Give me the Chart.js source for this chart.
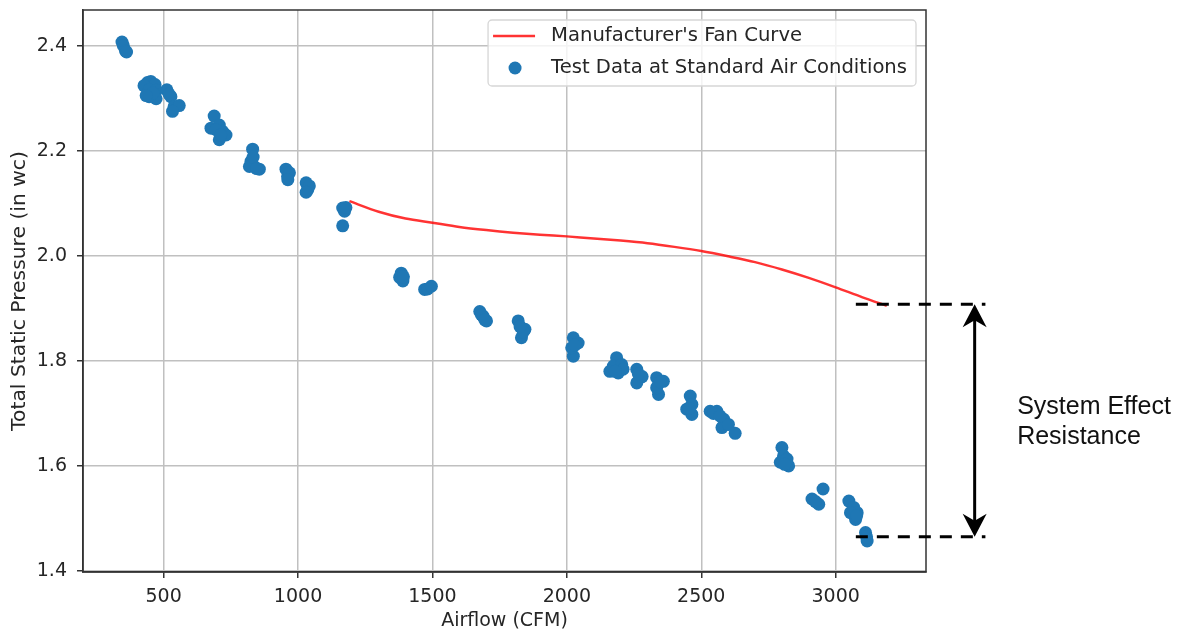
<!DOCTYPE html>
<html>
<head>
<meta charset="utf-8">
<script src="https://cdn.jsdelivr.net/npm/chart.js@4.4.0/dist/chart.umd.min.js"></script>
<style>
  html, body { margin: 0; padding: 0; background: #fff; }
  canvas { display: block; }
</style>
</head>
<body>
<canvas id="graficoVentilador" width="1186" height="637"></canvas>
<script>
// * Curva do fabricante
var fanCurveAirflow = [1191, 1300, 1400, 1500, 1600, 1700, 1800, 1900, 2000, 2100, 2200, 2300, 2400, 2500, 2600, 2700, 2800, 2900, 3000, 3100, 3190];
var fanCurvePressure = [2.104, 2.084, 2.071, 2.063, 2.055, 2.049, 2.044, 2.040, 2.037, 2.033, 2.029, 2.024, 2.017, 2.009, 1.999, 1.988, 1.974, 1.958, 1.940, 1.921, 1.905];

// * Dados de teste (ar padrão)
var testAirflow = [
    345, 350, 358, 362,
    440, 452, 468, 427, 446, 473, 446, 472, 460, 435,
    512, 527, 539, 558, 533, 520,
    688, 676, 707, 719, 732, 707, 695, 712,
    831, 825, 837, 856, 819, 833, 846,
    955, 961, 968, 962,
    1030, 1036, 1042, 1030,
    1166, 1173, 1178, 1166,
    1384, 1390, 1378, 1392,
    1471, 1482, 1496,
    1676, 1688, 1701, 1682, 1695,
    1819, 1844, 1831, 1838, 1826,
    2024, 2042, 2024, 2018, 2030,
    2185, 2173, 2160, 2204, 2191, 2209, 2180,
    2260, 2272, 2260, 2280, 2266,
    2334, 2359, 2341, 2334, 2348,
    2459, 2446, 2465, 2465, 2455,
    2533, 2558, 2583, 2577, 2601, 2626, 2545, 2570,
    2800, 2806, 2794, 2825, 2819, 2810,
    2912, 2937, 2953, 2925,
    3049, 3067, 3080, 3074, 3055, 3078,
    3111, 3117, 3115
];
var testPressure = [
    2.407, 2.400, 2.390, 2.388,
    2.330, 2.332, 2.326, 2.324, 2.316, 2.315, 2.303, 2.299, 2.310, 2.305,
    2.316, 2.303, 2.284, 2.286, 2.275, 2.308,
    2.266, 2.243, 2.249, 2.237, 2.230, 2.221, 2.240, 2.230,
    2.203, 2.180, 2.170, 2.165, 2.170, 2.188, 2.166,
    2.165, 2.151, 2.158, 2.145,
    2.139, 2.126, 2.133, 2.121,
    2.091, 2.085, 2.092, 2.057,
    1.967, 1.952, 1.959, 1.960,
    1.936, 1.937, 1.942,
    1.894, 1.885, 1.876, 1.888, 1.878,
    1.876, 1.860, 1.844, 1.855, 1.865,
    1.844, 1.834, 1.809, 1.825, 1.830,
    1.806, 1.790, 1.780, 1.793, 1.777, 1.784, 1.780,
    1.784, 1.768, 1.758, 1.770, 1.775,
    1.768, 1.761, 1.736, 1.749, 1.760,
    1.733, 1.708, 1.698, 1.717, 1.710,
    1.704, 1.704, 1.689, 1.673, 1.679, 1.662, 1.700, 1.695,
    1.635, 1.619, 1.607, 1.600, 1.613, 1.603,
    1.537, 1.527, 1.556, 1.532,
    1.533, 1.521, 1.511, 1.498, 1.511, 1.505,
    1.473, 1.457, 1.465
];

var xTicks = [500, 1000, 1500, 2000, 2500, 3000];
var yTicks = [1.4, 1.6, 1.8, 2.0, 2.2, 2.4];

// > Anotação "System Effect Resistance" (em unidades do gráfico)
var efeitoPressao = [1.908, 1.465];      // linhas tracejadas
var efeitoTracejado = [3075, 3557];      // início / fim das linhas
var efeitoSeta = 3517;                   // posição da seta
var efeitoTextoX = 3675;
var efeitoTexto = ["System Effect", "Resistance"];

var fonte = '"DejaVu Sans", sans-serif';
var corTexto = '#262626';

var curvaFabricante = fanCurveAirflow.map(function (x, i) { return { x: x, y: fanCurvePressure[i] }; });
var pontosTeste = testAirflow.map(function (x, i) { return { x: x, y: testPressure[i] }; });

// * Moldura completa (matplotlib desenha os 4 lados)
var molduraPlugin = {
    id: 'moldura',
    afterDatasetsDraw: function (chart) {
        var ctx = chart.ctx, a = chart.chartArea;
        ctx.save();
        ctx.strokeStyle = '#333';
        ctx.lineWidth = 1.5;
        ctx.strokeRect(a.left, a.top, a.right - a.left, a.bottom - a.top);
        ctx.restore();
    }
};

// * Legenda dentro do gráfico, canto superior direito
var legendaPlugin = {
    id: 'legendaInterna',
    afterDraw: function (chart) {
        var ctx = chart.ctx, a = chart.chartArea;
        var ds = chart.data.datasets;
        ctx.save();
        ctx.font = '19.6px ' + fonte;
        var textoW = 0;
        ds.forEach(function (d) { textoW = Math.max(textoW, ctx.measureText(d.label).width); });
        var w = 63 + textoW + 9, h = 66;
        var x = a.right - 10 - w, y = a.top + 10;

        ctx.beginPath();
        ctx.roundRect(x, y, w, h, 4);
        ctx.fillStyle = 'rgba(255,255,255,0.8)';
        ctx.fill();
        ctx.strokeStyle = '#d6d6d6';
        ctx.lineWidth = 1.3;
        ctx.stroke();

        // linha vermelha
        ctx.beginPath();
        ctx.moveTo(x + 5, y + 16);
        ctx.lineTo(x + 47, y + 16);
        ctx.strokeStyle = ds[0].borderColor;
        ctx.lineWidth = ds[0].borderWidth;
        ctx.stroke();
        // ponto azul
        ctx.beginPath();
        ctx.arc(x + 27, y + 48, 6.5, 0, Math.PI * 2);
        ctx.fillStyle = ds[1].backgroundColor;
        ctx.fill();

        ctx.fillStyle = corTexto;
        ctx.textBaseline = 'middle';
        ctx.fillText(ds[0].label, x + 63, y + 16);
        ctx.fillText(ds[1].label, x + 63, y + 48);
        ctx.restore();
    }
};

function pontaSeta(ctx, x, y, dir) {
    // dir = 1 aponta pra cima, -1 pra baixo
    ctx.beginPath();
    ctx.moveTo(x, y);
    ctx.lineTo(x - 12, y + dir * 23);
    ctx.lineTo(x, y + dir * 16);
    ctx.lineTo(x + 12, y + dir * 23);
    ctx.closePath();
    ctx.fill();
}

// * Anotação à direita do gráfico
var anotacaoPlugin = {
    id: 'anotacao',
    afterDraw: function (chart) {
        var ctx = chart.ctx;
        var sx = chart.scales.x, sy = chart.scales.y;
        var x0 = sx.getPixelForValue(efeitoTracejado[0]);
        var x1 = sx.getPixelForValue(efeitoTracejado[1]);
        var xs = sx.getPixelForValue(efeitoSeta);
        var yTopo = sy.getPixelForValue(efeitoPressao[0]);
        var yBase = sy.getPixelForValue(efeitoPressao[1]);
        ctx.save();
        ctx.strokeStyle = '#000';
        ctx.fillStyle = '#000';
        ctx.lineWidth = 3;
        ctx.setLineDash([12, 9]);
        efeitoPressao.forEach(function (p) {
            var yy = sy.getPixelForValue(p);
            ctx.beginPath();
            ctx.moveTo(x0, yy);
            ctx.lineTo(x1, yy);
            ctx.stroke();
        });
        ctx.setLineDash([]);
        ctx.beginPath();
        ctx.moveTo(xs, yTopo + 10);
        ctx.lineTo(xs, yBase - 10);
        ctx.stroke();
        pontaSeta(ctx, xs, yTopo, 1);
        pontaSeta(ctx, xs, yBase, -1);

        ctx.font = '25px "Liberation Sans", Arial, sans-serif';
        ctx.fillStyle = '#111';
        ctx.textBaseline = 'alphabetic';
        var tx = sx.getPixelForValue(efeitoTextoX);
        var meio = (yTopo + yBase) / 2;
        ctx.fillText(efeitoTexto[0], tx, meio - 6);
        ctx.fillText(efeitoTexto[1], tx, meio + 24);
        ctx.restore();
    }
};

var ctx = document.getElementById('graficoVentilador').getContext('2d');
var grafico = new Chart(ctx, {
    type: 'scatter',
    data: {
        datasets: [{
            label: "Manufacturer's Fan Curve",
            data: curvaFabricante,
            showLine: true,
            borderColor: 'rgba(255,0,0,0.8)',
            backgroundColor: 'rgba(255,0,0,0.8)',
            borderWidth: 2.5,
            pointRadius: 0,
            tension: 0.3
        }, {
            label: 'Test Data at Standard Air Conditions',
            data: pontosTeste,
            backgroundColor: '#1f77b4',
            borderWidth: 0,
            pointRadius: 6.5,
            pointHoverRadius: 6.5
        }]
    },
    options: {
        responsive: false,
        animation: false,
        layout: { padding: { top: 10, right: 260, left: 0, bottom: 0 } },
        plugins: {
            legend: { display: false },
            tooltip: { enabled: false }
        },
        scales: {
            x: {
                type: 'linear',
                min: 200,
                max: 3336,
                afterBuildTicks: function (s) { s.ticks = xTicks.map(function (v) { return { value: v }; }); },
                afterFit: function (s) { s.height = 65; },
                ticks: {
                    font: { family: fonte, size: 19 },
                    color: corTexto,
                    padding: 8,
                    maxRotation: 0,
                    callback: function (v) { return String(v); }
                },
                grid: {
                    color: 'rgb(192,192,192)',
                    lineWidth: 1.5,
                    tickLength: 6,
                    tickColor: '#333',
                    tickWidth: 1.5
                },
                border: { color: '#333', width: 1.5 },
                title: {
                    display: true,
                    text: 'Airflow (CFM)',
                    font: { family: fonte, size: 19 },
                    color: corTexto,
                    padding: { top: 0, bottom: 5 }
                }
            },
            y: {
                type: 'linear',
                min: 1.398,
                max: 2.468,
                afterBuildTicks: function (s) { s.ticks = yTicks.map(function (v) { return { value: v }; }); },
                // ? o eixo y reservava espaço acima (meio rótulo + padding), zera aqui
                afterFit: function (s) { s.width = 83; s.paddingTop = 0; s.paddingBottom = 0; },
                ticks: {
                    font: { family: fonte, size: 19 },
                    color: corTexto,
                    padding: 10,
                    callback: function (v) { return v.toFixed(1); }
                },
                grid: {
                    color: 'rgb(192,192,192)',
                    lineWidth: 1.5,
                    tickLength: 6,
                    tickColor: '#333',
                    tickWidth: 1.5
                },
                border: { color: '#333', width: 1.5 },
                title: {
                    display: true,
                    text: 'Total Static Pressure (in wc)',
                    font: { family: fonte, size: 20.3 },
                    color: corTexto,
                    padding: { top: 8, bottom: 0 }
                }
            }
        }
    },
    plugins: [molduraPlugin, legendaPlugin, anotacaoPlugin]
});
</script>
</body>
</html>
